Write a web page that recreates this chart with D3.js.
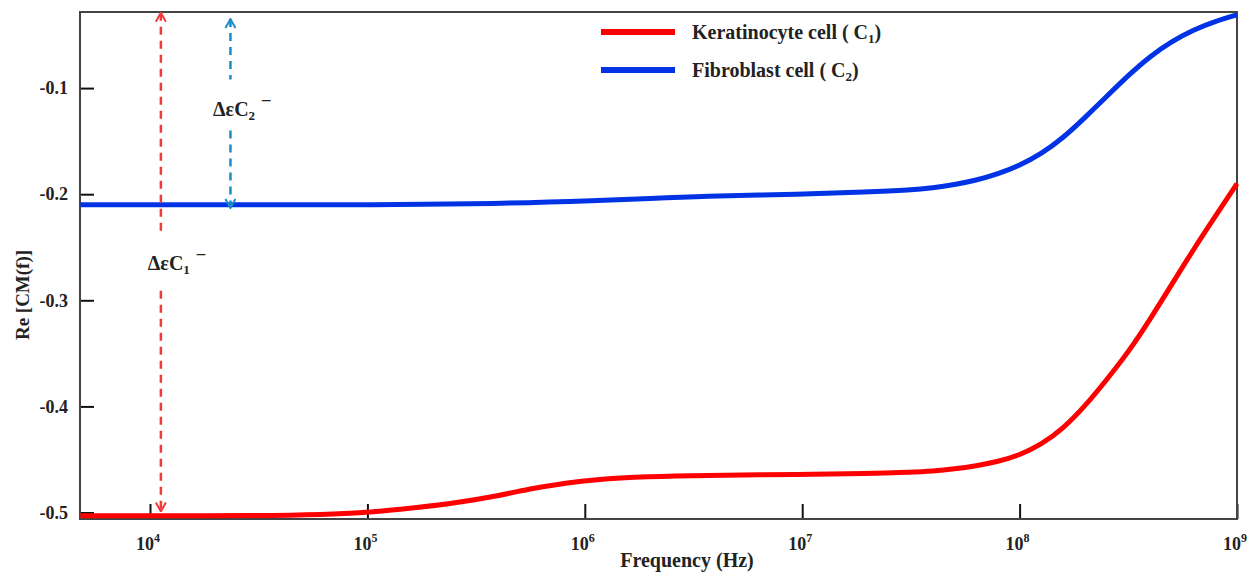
<!DOCTYPE html>
<html>
<head>
<meta charset="utf-8">
<script src="https://cdn.jsdelivr.net/npm/d3@7"></script>
<style>
  body { margin: 0; background: #fff; }
  text { font-family: "Liberation Serif", "DejaVu Serif", serif; font-weight: bold; fill: #222; }
</style>
</head>
<body>
<div id="chart-area"></div>
<script>
// data: log10(frequency) and Re[CM(f)]
var keratLogF = [3.68, 4.0, 4.5, 4.8, 5.0, 5.15, 5.38, 5.61, 5.76, 5.92, 6.03, 6.3, 6.53, 7.0, 7.3, 7.5, 7.6, 7.7, 7.8, 7.9, 8.0, 8.1, 8.2, 8.3, 8.4, 8.5, 8.6, 8.7, 8.8, 8.9, 9.0];
var keratVals = [-0.503, -0.503, -0.503, -0.502, -0.5, -0.497, -0.492, -0.484, -0.477, -0.472, -0.469, -0.466, -0.465, -0.464, -0.4635, -0.462, -0.461, -0.459, -0.456, -0.452, -0.446, -0.436, -0.421, -0.4, -0.375, -0.349, -0.318, -0.285, -0.252, -0.221, -0.19];

var fibroLogF = [3.68, 4.0, 4.5, 5.0, 5.6, 6.07, 6.3, 6.53, 7.0, 7.3, 7.5, 7.6, 7.7, 7.8, 7.9, 8.0, 8.1, 8.2, 8.3, 8.4, 8.5, 8.6, 8.7, 8.8, 8.9, 9.0];
var fibroVals = [-0.21, -0.21, -0.21, -0.21, -0.209, -0.206, -0.204, -0.202, -0.2, -0.198, -0.196, -0.194, -0.191, -0.187, -0.181, -0.173, -0.162, -0.147, -0.128, -0.108, -0.088, -0.07, -0.056, -0.045, -0.037, -0.031];

var seriesNames = ["Keratinocyte cell  ( C", "Fibroblast cell  ( C"];
var seriesSubs = ["1", "2"];
var seriesColors = ["#ff0000", "#0033e6"];

var yTicks = [-0.1, -0.2, -0.3, -0.4, -0.5];
var xTickExps = [4, 5, 6, 7, 8, 9];

var margin = {left: 80, right: 14, top: 12, bottom: 54};
var width = 1251 - margin.left - margin.right;
var height = 573 - margin.top - margin.bottom;

var svg = d3.select("#chart-area").append("svg")
    .attr("width", 1251)
    .attr("height", 573);

var g = svg.append("g")
    .attr("transform", "translate(" + margin.left + "," + margin.top + ")");

var x = d3.scaleLog()
    .domain([Math.pow(10, 3.678), 1e9])
    .range([0, width]);

var y = d3.scaleLinear()
    .domain([-0.5061, -0.0283])
    .range([height, 0]);

// axes (ticks point inward)
var yAxis = g.append("g")
    .call(d3.axisLeft(y)
        .tickValues(yTicks)
        .tickSizeInner(-14)
        .tickSizeOuter(0)
        .tickPadding(12)
        .tickFormat(function(d) { return d.toFixed(1); }));
yAxis.select(".domain").remove();
yAxis.selectAll("line").attr("stroke", "#111").attr("stroke-width", 2);
yAxis.selectAll("text")
    .attr("font-size", 18)
    .attr("font-family", "Liberation Serif")
    .attr("font-weight", "bold")
    .attr("fill", "#222");

var xAxis = g.append("g")
    .attr("transform", "translate(0," + height + ")")
    .call(d3.axisBottom(x)
        .tickValues(xTickExps.map(function(e) { return Math.pow(10, e); }))
        .tickSizeInner(-15)
        .tickSizeOuter(0)
        .tickFormat(""));
xAxis.select(".domain").remove();
xAxis.selectAll("line").attr("stroke", "#111").attr("stroke-width", 2);

xTickExps.forEach(function(e) {
    var t = g.append("text")
        .attr("x", x(Math.pow(10, e)) - 2)
        .attr("y", height + 31)
        .attr("text-anchor", "middle")
        .attr("font-size", 18);
    t.append("tspan").text("10");
    t.append("tspan").attr("dy", -8).attr("font-size", 12).text(e);
});

// frame
g.append("rect")
    .attr("width", width)
    .attr("height", height)
    .attr("fill", "none")
    .attr("stroke", "#444")
    .attr("stroke-width", 2);

// axis titles
g.append("text")
    .attr("x", 607)
    .attr("y", height + 48)
    .attr("text-anchor", "middle")
    .attr("font-size", 20)
    .text("Frequency (Hz)");

g.append("text")
    .attr("transform", "translate(-51,283) rotate(-90)")
    .attr("text-anchor", "middle")
    .attr("font-size", 19)
    .text("Re [CM(f)]");

// curves
var line = d3.line()
    .x(function(d) { return x(Math.pow(10, d[0])); })
    .y(function(d) { return y(d[1]); })
    .curve(d3.curveBasis);

var series = [d3.zip(keratLogF, keratVals), d3.zip(fibroLogF, fibroVals)];

g.selectAll(".curve")
    .data(series)
    .enter().append("path")
    .attr("class", "curve")
    .attr("d", line)
    .attr("fill", "none")
    .attr("stroke", function(d, i) { return seriesColors[i]; })
    .attr("stroke-width", 5);

// annotations: dashed double arrows
var defs = svg.append("defs");
function chevron(id, color) {
    defs.append("marker")
        .attr("id", id)
        .attr("viewBox", "0 0 12 12")
        .attr("refX", 11).attr("refY", 6)
        .attr("markerWidth", 12).attr("markerHeight", 12)
        .attr("markerUnits", "userSpaceOnUse")
        .attr("orient", "auto-start-reverse")
        .append("path")
        .attr("d", "M2,1 L11,6 L2,11")
        .attr("fill", "none")
        .attr("stroke", color)
        .attr("stroke-width", 2);
}
chevron("arrRed", "#f23a3a");
chevron("arrBlue", "#1a8cc8");

function dashed(f, y1, y2, color, start, end) {
    var l = g.append("line")
        .attr("x1", x(f)).attr("x2", x(f))
        .attr("y1", y(y1)).attr("y2", y(y2))
        .attr("stroke", color)
        .attr("stroke-width", 2.5)
        .attr("stroke-dasharray", "8,6");
    if (start) l.attr("marker-start", "url(#" + start + ")");
    if (end) l.attr("marker-end", "url(#" + end + ")");
}

var redF = Math.pow(10, 4.05), blueF = Math.pow(10, 4.37);
dashed(redF, -0.029, -0.237, "#f23a3a", "arrRed", null);
dashed(redF, -0.291, -0.499, "#f23a3a", null, "arrRed");
dashed(blueF, -0.035, -0.092, "#1a8cc8", "arrBlue", null);
dashed(blueF, -0.14, -0.213, "#1a8cc8", null, "arrBlue");

function deltaLabel(e, v, sub) {
    var t = g.append("text")
        .attr("x", x(Math.pow(10, e)))
        .attr("y", y(v))
        .attr("font-weight", "normal")
        .attr("font-size", 20);
    t.append("tspan").text("\u0394\u03b5C");
    t.append("tspan").attr("dy", 4).attr("font-size", 13).text(sub);
    t.append("tspan").attr("dy", -15).attr("dx", 7).attr("font-size", 17).text("\u2013");
}
deltaLabel(3.99, -0.271, "1");
deltaLabel(4.29, -0.126, "2");

// legend
var legend = g.append("g")
    .attr("transform", "translate(521,20)");

seriesNames.forEach(function(name, i) {
    var row = legend.append("g")
        .attr("transform", "translate(0," + (i * 38) + ")");
    row.append("line")
        .attr("x1", 0).attr("x2", 74)
        .attr("stroke", seriesColors[i])
        .attr("stroke-width", 6);
    var t = row.append("text")
        .attr("x", 91)
        .attr("y", 7)
        .attr("font-size", 20);
    t.append("tspan").text(name);
    t.append("tspan").attr("dy", 4).attr("font-size", 13).text(seriesSubs[i]);
    t.append("tspan").attr("dy", -4).text(")");
});
</script>
</body>
</html>
